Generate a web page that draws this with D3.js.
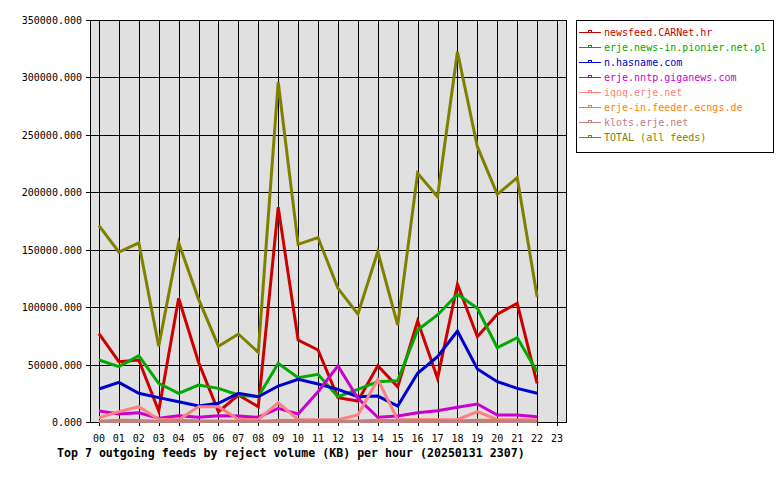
<!DOCTYPE html>
<html><head><meta charset="utf-8">
<script src="https://cdn.jsdelivr.net/npm/d3@7"></script>
<style>body{margin:0;background:#fff}svg{display:block}</style>
</head><body>
<script>
const hours = ["00","01","02","03","04","05","06","07","08","09","10","11","12","13","14","15","16","17","18","19","20","21","22","23"];
const yTicks = [0,50000,100000,150000,200000,250000,300000,350000];
const seriesNames = ["newsfeed.CARNet.hr","erje.news-in.pionier.net.pl","n.hasname.com","erje.nntp.giganews.com","iqoq.erje.net","erje-in.feeder.ecngs.de","klots.erje.net","TOTAL (all feeds)"];
const seriesColors = ["#cc0000","#00aa00","#0000cc","#cc00cc","#ff8080","#ff8000","#c08080","#808000"];
const carnet   = [77000,52500,54000,9600,107700,52000,9000,23500,13300,187000,71400,62700,21200,18300,49000,30700,87900,38000,119900,74300,93800,103300,33700];
const pionier  = [54000,48200,57700,33700,25000,32200,29300,23500,22000,51100,38600,41500,22000,28400,35100,36000,80100,93200,111200,99000,64700,73400,43800];
const hasname  = [28700,34500,25000,21200,17700,14000,16300,25000,22000,31300,37100,33100,28400,22000,22600,13900,42400,56800,79200,46100,35100,29300,25000];
const giganews = [9600,7000,8100,3200,5500,4100,5500,5200,4100,11900,7000,26400,48800,20600,4100,5200,8100,9800,12800,15700,6100,6100,4600];
const iqoq     = [3700,9000,13300,2300,2000,13300,13300,2300,2000,16800,2000,2000,2000,6100,37000,2000,2000,2000,2000,9000,2000,2000,2000];
const ecngs    = [500,1500,1200,300,1500,800,600,400,300,1500,1400,1000,500,600,1500,1200,1500,1500,800,1500,1500,1200,800];
const klots    = [300,300,300,300,300,300,300,300,300,300,300,300,300,300,300,300,300,300,300,300,300,300,300];
const total    = [171000,148000,156000,66000,156000,107000,66000,76600,60700,296000,154700,160500,116400,94000,148300,84400,216500,196200,322400,239700,198200,212700,109100];
const seriesValues = [carnet,pionier,hasname,giganews,iqoq,ecngs,klots,total];
const titleText = "Top 7 outgoing feeds by reject volume (KB) per hour (20250131 2307)";

const W=780,H=480;
const L=90,R=567,T=20,B=422;
const svg=d3.select("body").append("svg").attr("width",W).attr("height",H);
const x=d3.scaleLinear().domain([-0.45,23.5]).range([L,R]);
const y=d3.scaleLinear().domain([0,350000]).range([B,T]);
const mono="'DejaVu Sans Mono', monospace";

svg.append("rect").attr("x",L).attr("y",T).attr("width",R-L).attr("height",B-T).attr("fill","#e0e0e0");
// grid
svg.append("g").selectAll("line").data(hours.map((h,i)=>i)).join("line")
  .attr("x1",d=>Math.round(x(d))+0.5).attr("x2",d=>Math.round(x(d))+0.5)
  .attr("y1",T).attr("y2",B+4).attr("stroke","#000").attr("stroke-width",1);
svg.append("g").selectAll("line").data(yTicks).join("line")
  .attr("x1",L-4).attr("x2",R).attr("y1",d=>Math.round(y(d))+0.5).attr("y2",d=>Math.round(y(d))+0.5)
  .attr("stroke","#000").attr("stroke-width",1);
svg.append("rect").attr("x",L+0.5).attr("y",T+0.5).attr("width",R-L-1).attr("height",B-T).attr("fill","none").attr("stroke","#000");

// axes labels
svg.append("g").selectAll("text").data(yTicks).join("text")
  .attr("x",82).attr("y",d=>y(d)+4).attr("text-anchor","end")
  .attr("font-family",mono).attr("font-size",10).text(d=>d3.format(".3f")(d));
svg.append("g").selectAll("text").data(hours).join("text")
  .attr("x",(d,i)=>x(i)).attr("y",442).attr("text-anchor","middle")
  .attr("font-family",mono).attr("font-size",10).text(d=>d);
svg.append("text").attr("x",57).attr("y",457).attr("font-family",mono).attr("font-weight","bold")
  .attr("font-size",11.6).text(titleText);

// lines
const line=d3.line().x((d,i)=>x(i)).y(d=>y(d));
const clip=svg.append("clipPath").attr("id","c").append("rect").attr("x",L).attr("y",T).attr("width",R-L).attr("height",B-T+1);
const g=svg.append("g").attr("clip-path","url(#c)");
seriesValues.forEach((vals,k)=>{
  g.append("path").attr("d",line(vals)).attr("fill","none").attr("stroke",seriesColors[k])
   .attr("stroke-width",k===6?4:3).attr("stroke-linejoin","miter");
});

// legend
svg.append("rect").attr("x",576.5).attr("y",20.5).attr("width",197).attr("height",132).attr("fill","#fff").attr("stroke","#000");
const lg=svg.append("g").selectAll("g").data(seriesNames).join("g")
  .attr("transform",(d,i)=>`translate(0,${32+i*15})`);
lg.append("line").attr("x1",579).attr("x2",601).attr("y1",0.5).attr("y2",0.5).attr("stroke",(d,i)=>seriesColors[i]);
lg.append("rect").attr("x",588.5).attr("y",-1.5).attr("width",3).attr("height",2).attr("fill","#fff").attr("stroke",(d,i)=>seriesColors[i]);
lg.append("text").attr("x",604).attr("y",4).attr("font-family",mono).attr("font-size",10)
  .attr("fill",(d,i)=>seriesColors[i]).text(d=>d);
</script>
</body></html>
